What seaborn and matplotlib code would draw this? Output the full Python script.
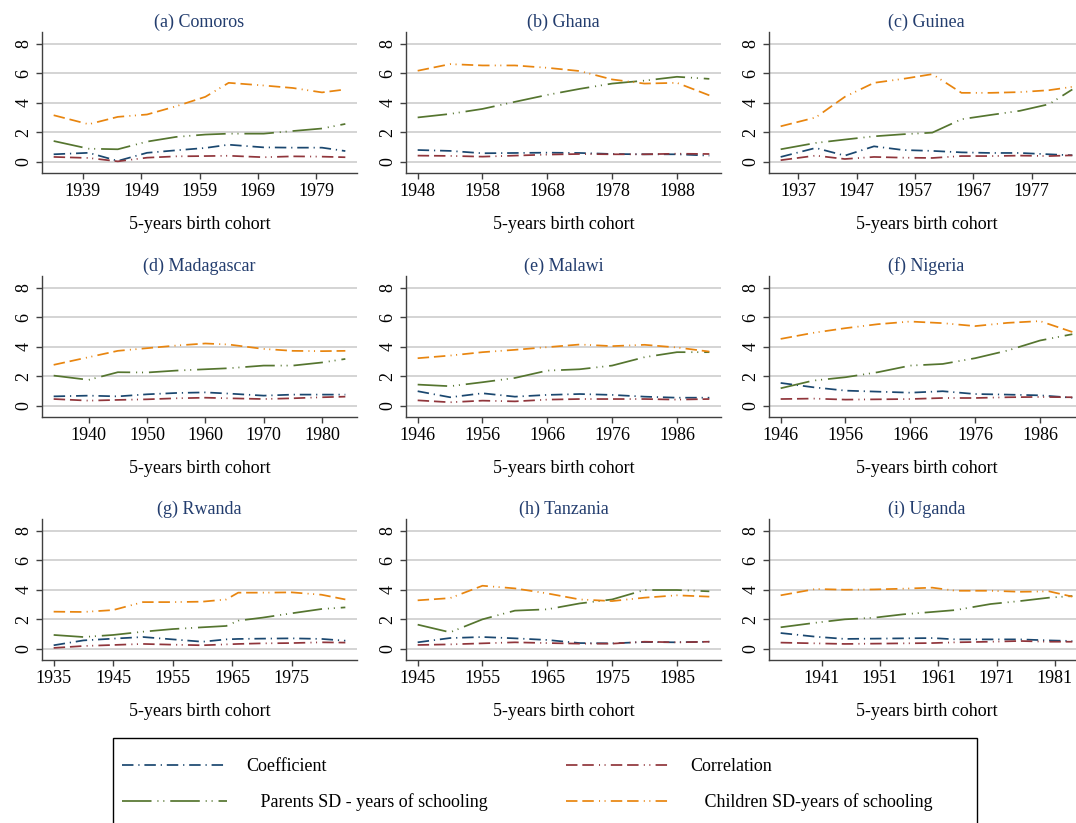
import matplotlib
matplotlib.use("Agg")
import matplotlib.pyplot as plt
import matplotlib.patches as mpatches
from matplotlib.lines import Line2D
import pandas as pd
import seaborn as sns

sns.set_style("white")
plt.rcParams["font.family"] = ["Liberation Serif", "DejaVu Serif"]
plt.rcParams["text.color"] = "black"
plt.rcParams["axes.labelcolor"] = "black"
plt.rcParams["xtick.color"] = "black"
plt.rcParams["ytick.color"] = "black"

# --- data ---------------------------------------------------------------
comoros_years = [1934, 1940, 1945, 1950, 1955, 1960, 1964, 1970, 1975, 1980, 1984]
comoros_coef = [0.50, 0.60, 0.05, 0.60, 0.77, 0.93, 1.15, 0.97, 0.95, 0.95, 0.72]
comoros_corr = [0.32, 0.25, 0.02, 0.27, 0.36, 0.38, 0.40, 0.30, 0.36, 0.34, 0.30]
comoros_parents = [1.40, 0.88, 0.84, 1.36, 1.68, 1.84, 1.90, 1.90, 2.08, 2.25, 2.56]
comoros_children = [3.15, 2.54, 3.04, 3.20, 3.76, 4.40, 5.35, 5.17, 5.00, 4.70, 4.90]

ghana_years = [1948, 1953, 1958, 1963, 1968, 1973, 1978, 1983, 1988, 1993]
ghana_coef = [0.79, 0.73, 0.57, 0.59, 0.61, 0.59, 0.52, 0.50, 0.50, 0.41]
ghana_corr = [0.41, 0.39, 0.34, 0.41, 0.48, 0.52, 0.50, 0.50, 0.54, 0.52]
ghana_parents = [3.00, 3.24, 3.58, 4.06, 4.53, 4.94, 5.30, 5.50, 5.76, 5.62]
ghana_children = [6.17, 6.62, 6.53, 6.53, 6.37, 6.15, 5.58, 5.30, 5.35, 4.50]

guinea_years = [1934, 1940, 1945, 1950, 1955, 1960, 1965, 1970, 1975, 1980, 1984]
guinea_coef = [0.32, 0.93, 0.41, 1.04, 0.79, 0.73, 0.63, 0.59, 0.59, 0.50, 0.43]
guinea_corr = [0.10, 0.41, 0.18, 0.32, 0.27, 0.25, 0.38, 0.38, 0.41, 0.38, 0.43]
guinea_parents = [0.84, 1.27, 1.50, 1.72, 1.86, 1.97, 2.88, 3.17, 3.45, 3.90, 4.90]
guinea_children = [2.40, 3.00, 4.40, 5.35, 5.62, 5.94, 4.67, 4.67, 4.72, 4.85, 5.08]

madagascar_years = [1934, 1940, 1945, 1950, 1955, 1960, 1964, 1970, 1975, 1980, 1984]
madagascar_coef = [0.63, 0.68, 0.63, 0.77, 0.86, 0.90, 0.82, 0.68, 0.75, 0.75, 0.75]
madagascar_corr = [0.45, 0.34, 0.39, 0.43, 0.50, 0.54, 0.50, 0.45, 0.50, 0.57, 0.61]
madagascar_parents = [2.04, 1.75, 2.27, 2.25, 2.38, 2.47, 2.54, 2.72, 2.72, 2.93, 3.17]
madagascar_children = [2.77, 3.29, 3.72, 3.90, 4.08, 4.22, 4.15, 3.85, 3.72, 3.70, 3.72]

malawi_years = [1946, 1951, 1956, 1961, 1966, 1971, 1976, 1981, 1986, 1991]
malawi_coef = [0.98, 0.57, 0.84, 0.61, 0.73, 0.79, 0.73, 0.61, 0.54, 0.54]
malawi_corr = [0.36, 0.23, 0.34, 0.29, 0.41, 0.45, 0.45, 0.45, 0.41, 0.45]
malawi_parents = [1.43, 1.32, 1.59, 1.88, 2.38, 2.47, 2.72, 3.29, 3.63, 3.63]
malawi_children = [3.22, 3.40, 3.63, 3.79, 3.97, 4.15, 4.04, 4.13, 3.95, 3.67]

nigeria_years = [1946, 1951, 1956, 1961, 1966, 1971, 1976, 1981, 1986, 1991]
nigeria_coef = [1.54, 1.25, 1.02, 0.95, 0.88, 0.98, 0.79, 0.75, 0.70, 0.54]
nigeria_corr = [0.45, 0.48, 0.41, 0.43, 0.45, 0.52, 0.52, 0.57, 0.59, 0.57]
nigeria_parents = [1.18, 1.70, 1.93, 2.27, 2.72, 2.83, 3.22, 3.74, 4.42, 4.85]
nigeria_children = [4.53, 4.94, 5.26, 5.53, 5.71, 5.60, 5.40, 5.62, 5.74, 5.00]

rwanda_years = [1935, 1940, 1945, 1950, 1955, 1960, 1964, 1966, 1970, 1975, 1980, 1984]
rwanda_coef = [0.23, 0.56, 0.68, 0.79, 0.63, 0.47, 0.63, 0.66, 0.68, 0.70, 0.66, 0.54]
rwanda_corr = [0.05, 0.18, 0.25, 0.32, 0.27, 0.23, 0.29, 0.32, 0.36, 0.38, 0.43, 0.41]
rwanda_parents = [0.93, 0.79, 0.93, 1.15, 1.33, 1.45, 1.54, 1.90, 2.10, 2.40, 2.69, 2.80]
rwanda_children = [2.51, 2.49, 2.62, 3.16, 3.16, 3.19, 3.34, 3.80, 3.80, 3.82, 3.66, 3.34]

tanzania_years = [1945, 1950, 1955, 1960, 1965, 1970, 1975, 1980, 1985, 1990]
tanzania_coef = [0.43, 0.72, 0.79, 0.70, 0.59, 0.38, 0.36, 0.45, 0.43, 0.47]
tanzania_corr = [0.25, 0.29, 0.36, 0.43, 0.38, 0.34, 0.34, 0.47, 0.43, 0.47]
tanzania_parents = [1.63, 1.11, 1.99, 2.58, 2.67, 3.07, 3.34, 3.98, 3.98, 3.89]
tanzania_children = [3.28, 3.43, 4.27, 4.09, 3.75, 3.34, 3.23, 3.46, 3.62, 3.53]

uganda_years = [1934, 1940, 1945, 1950, 1955, 1960, 1964, 1970, 1975, 1980, 1984]
uganda_coef = [1.06, 0.81, 0.66, 0.68, 0.70, 0.72, 0.63, 0.63, 0.63, 0.56, 0.52]
uganda_corr = [0.41, 0.36, 0.32, 0.34, 0.36, 0.38, 0.43, 0.47, 0.52, 0.47, 0.47]
uganda_parents = [1.45, 1.76, 1.99, 2.10, 2.33, 2.49, 2.62, 3.03, 3.23, 3.46, 3.57]
uganda_children = [3.62, 4.05, 4.00, 4.02, 4.07, 4.14, 3.93, 3.93, 3.86, 3.89, 3.53]

titles = ["(a) Comoros", "(b) Ghana", "(c) Guinea", "(d) Madagascar", "(e) Malawi",
          "(f) Nigeria", "(g) Rwanda", "(h) Tanzania", "(i) Uganda"]
first_ticks = [1939, 1948, 1937, 1940, 1946, 1946, 1935, 1945, 1941]
y_ticks = [0, 2, 4, 6, 8]

series_names = ["Coefficient", "Correlation", "Parents SD - years of schooling",
                "Children SD-years of schooling"]
panels = [
    (comoros_years, comoros_coef, comoros_corr, comoros_parents, comoros_children),
    (ghana_years, ghana_coef, ghana_corr, ghana_parents, ghana_children),
    (guinea_years, guinea_coef, guinea_corr, guinea_parents, guinea_children),
    (madagascar_years, madagascar_coef, madagascar_corr, madagascar_parents, madagascar_children),
    (malawi_years, malawi_coef, malawi_corr, malawi_parents, malawi_children),
    (nigeria_years, nigeria_coef, nigeria_corr, nigeria_parents, nigeria_children),
    (rwanda_years, rwanda_coef, rwanda_corr, rwanda_parents, rwanda_children),
    (tanzania_years, tanzania_coef, tanzania_corr, tanzania_parents, tanzania_children),
    (uganda_years, uganda_coef, uganda_corr, uganda_parents, uganda_children),
]

# Stata s2color look
palette = dict(zip(series_names, ["#1a476f", "#90353b", "#55752f", "#e8850f"]))
two_dash_two_dot = (6.6, 2.8, 6.6, 3.0, 0.6, 2.6, 0.6, 3.0)
dashes = dict(zip(series_names, [(6.6, 2.8, 0.7, 2.8),
                                 two_dash_two_dot,
                                 (17.0, 3.4, 0.6, 2.8, 0.6, 3.4),
                                 two_dash_two_dot]))
LW = 1.25
title_color = "#233d6e"

W, H = 1076, 823
fig = plt.figure(figsize=(W / 100, H / 100), dpi=100)

col_left = [42, 406, 769]
row_top = [32, 276, 519]
ax_w, ax_h = 315, 141

for i, (vals, title, t0) in enumerate(zip(panels, titles, first_ticks)):
    years = vals[0]
    df = pd.concat([pd.DataFrame({"year": years, "value": v, "series": name})
                    for name, v in zip(series_names, vals[1:])])
    r, c = divmod(i, 3)
    ax = fig.add_axes([col_left[c] / W, 1 - (row_top[r] + ax_h) / H, ax_w / W, ax_h / H])
    ax.yaxis.grid(True, color="#c9c9c9", lw=1.1, zorder=0)
    ax.set_axisbelow(True)
    sns.lineplot(data=df, x="year", y="value", hue="series", style="series",
                 palette=palette, dashes=dashes, lw=LW, legend=False, ax=ax)
    span = years[-1] - years[0]
    ax.set_xlim(years[0] - 0.04 * span, years[-1] + 0.04 * span)
    ax.set_ylim(-0.77, 8.8)
    ax.set_xticks([t0 + 10 * k for k in range(5)])
    ax.set_yticks(y_ticks)
    ax.tick_params(axis="x", labelsize=13, length=4, width=1, color="#404040", pad=3,
                   bottom=True)
    ax.tick_params(axis="y", labelsize=13, length=4, width=1, color="#404040", pad=3,
                   left=True, labelrotation=90)
    for lab in ax.get_yticklabels():
        lab.set_va("center")
    sns.despine(ax=ax)
    for s in ["left", "bottom"]:
        ax.spines[s].set_color("#404040")
        ax.spines[s].set_linewidth(1.0)
    ax.set_xlabel("5-years birth cohort", fontsize=13, labelpad=12)
    ax.set_ylabel("")
    ax.set_title(title, fontsize=13, color=title_color, pad=4)

# legend box (runs off the bottom of the picture as in the original)
box = mpatches.Rectangle((113 / W, (H - 838) / H), (977 - 113) / W, 100 / H,
                         transform=fig.transFigure, fill=False, ec="black", lw=1.0)
fig.patches.append(box)

handles = [Line2D([], [], color=palette[n], lw=LW, dashes=dashes[n]) for n in series_names]
leg_kw = dict(frameon=False, fontsize=13, handlelength=5.8, handletextpad=1.1,
              labelspacing=1.0, borderpad=0, loc="upper left")
fig.legend([handles[0], handles[2]],
           ["Coefficient", "   Parents SD - years of schooling"],
           bbox_to_anchor=(113 / W, 1 - 749 / H), **leg_kw)
fig.legend([handles[1], handles[3]],
           ["Correlation", "   Children SD-years of schooling"],
           bbox_to_anchor=(557 / W, 1 - 749 / H), **leg_kw)

fig.savefig("out.png", dpi=100)
